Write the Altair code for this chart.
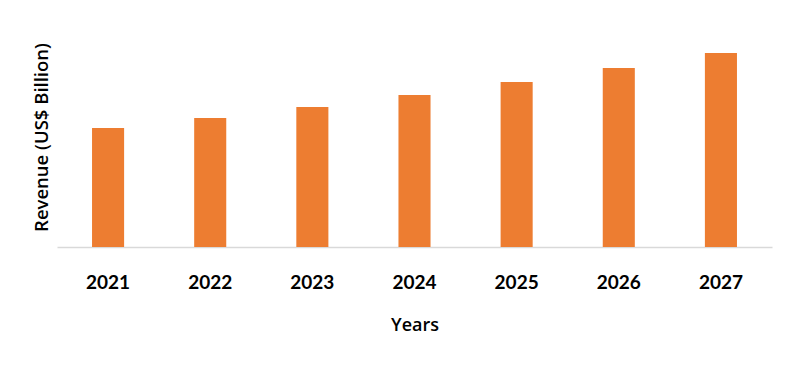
import altair as alt
import pandas as pd

years = ["2021", "2022", "2023", "2024", "2025", "2026", "2027"]
revenue = [11.9, 12.9, 14.0, 15.2, 16.5, 17.9, 19.4]

df = pd.DataFrame({"Year": years, "Revenue": revenue})

chart = alt.Chart(df).mark_bar(color="#ED7D31").encode(
    x=alt.X("Year:N", sort=years,
            scale=alt.Scale(paddingInner=0.686, paddingOuter=0.343),
            axis=alt.Axis(title="Years", labelAngle=0, ticks=False, domainColor="#D9D9D9",
                          domainWidth=1.5, labelFont="Lato", labelFontSize=19, labelFontWeight="bold",
                          labelColor="#000000", labelPadding=26, titleFont="Open Sans",
                          titleFontSize=18, titleFontWeight=600, titleColor="#000000",
                          titlePadding=24)),
    y=alt.Y("Revenue:Q", scale=alt.Scale(domain=[0, 22]),
            axis=alt.Axis(title="Revenue (US$ Billion)", labels=False, ticks=False, domain=False,
                          grid=False, titleFont="Open Sans", titleFontSize=18.5, titleFontWeight=600,
                          titleColor="#000000", titlePadding=6)),
).properties(
    width=715, height=220,
    autosize=alt.AutoSizeParams(type="none"),
    padding={"left": 49, "top": 19, "right": 16, "bottom": 110},
).configure_view(stroke=None).configure_axis(grid=False)

chart.save("out.html", embed_options={"renderer": "svg", "actions": False})
